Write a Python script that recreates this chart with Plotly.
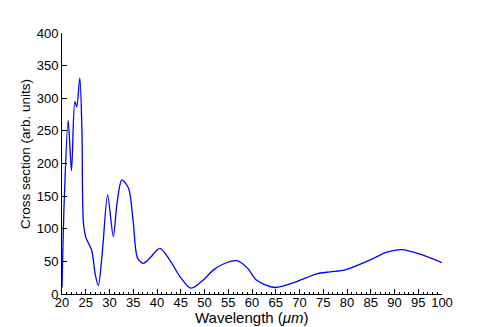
import plotly.graph_objects as go

# values
wavelength = [20, 20.5, 21.3, 22.0, 22.7, 23.1, 23.75, 24.2, 24.5, 25.05,
              25.7, 26.25, 26.6, 27.0, 27.65, 28.5, 29.6, 30.8, 31.6, 32.6,
              34.0, 35.0, 35.9, 37.1, 38.5, 40.6, 42.7, 44.8, 47.1, 49.5,
              51.9, 54.0, 56.8, 59.0, 61.0, 64.8, 69.4, 73.6, 76.4, 79.6,
              84.8, 88.4, 91.5, 95.4, 100]
cross_section = [10, 150, 266, 189, 295, 287, 331, 250, 110, 86,
                 76, 67, 52, 30, 13, 65, 152, 88, 140, 175,
                 162, 110, 55, 47, 55, 70, 52, 27, 9, 20,
                 37, 46, 51, 40, 21, 10, 19, 31, 34, 37,
                 52, 64, 68, 61, 48]

fig = go.Figure()
fig.add_trace(go.Scatter(
    x=wavelength,
    y=cross_section,
    mode='lines',
    line=dict(color='#0000ff', width=1.3, shape='spline', smoothing=0.8),
    showlegend=False
))

axis_common = dict(
    showline=True,
    linecolor='black',
    linewidth=1,
    mirror=False,
    showgrid=False,
    zeroline=False,
    automargin=False,
    ticks='inside',
    tickcolor='black',
    ticklen=5,
    tickfont=dict(size=13, color='black'),
)

# page body has an 8px margin, so the figure is offset by that much
fig.update_layout(
    width=483,
    height=319,
    margin=dict(l=54, r=49, t=25, b=33),
    paper_bgcolor='white',
    plot_bgcolor='white',
    font=dict(family='Liberation Sans, Arial, sans-serif', size=14, color='black'),
    xaxis=dict(
        axis_common,
        range=[20, 100],
        tick0=20,
        dtick=5,
        ticklabelstandoff=-4,
        minor=dict(ticks='inside', ticklen=2, dtick=1, tickcolor='black', showgrid=False),
    ),
    yaxis=dict(
        axis_common,
        range=[0, 400],
        dtick=50,
    ),
)

# axis titles placed as annotations for exact positioning
fig.add_annotation(text='Wavelength (<i>μm</i>)', xref='paper', yref='paper',
                   x=0.5, y=0, yshift=-23, showarrow=False,
                   xanchor='center', yanchor='middle', font=dict(size=15))
fig.add_annotation(text='Cross section (arb. units)', xref='paper', yref='paper',
                   x=0, y=0.536, xshift=-37, showarrow=False, textangle=-90,
                   xanchor='center', yanchor='middle', font=dict(size=13.5))

fig.write_html("out.html")
